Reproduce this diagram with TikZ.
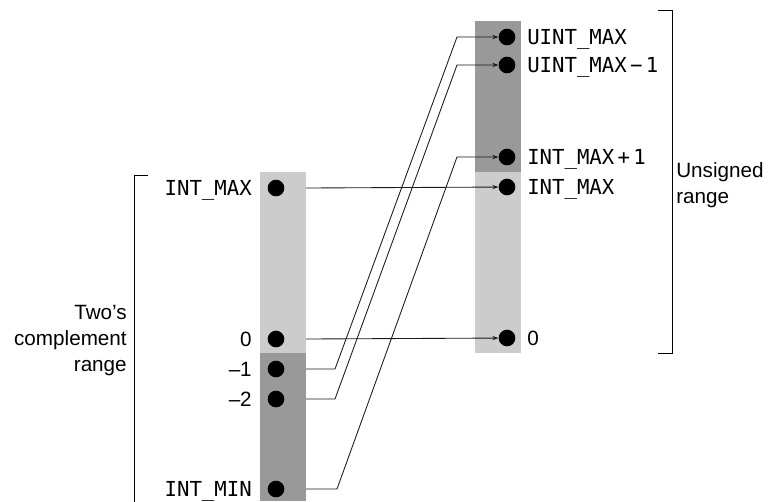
\documentclass[tikz,border=0pt]{standalone}
\usepackage{fontspec}
\setmainfont{Liberation Sans}
\setmonofont{DejaVu Sans Mono}
\usepackage{tikz}
\usetikzlibrary{arrows.meta,positioning,calc}
\definecolor{RangeLight}{HTML}{CCCCCC}
\definecolor{RangeDark}{HTML}{999999}
\definecolor{WireInk}{HTML}{1A1A1A}

\begin{document}
\begin{tikzpicture}[x=0.75pt,y=-0.75pt]
    \tikzset{
      val/.style={circle, fill=black, minimum size=12.5pt, inner sep=0pt},
      wire/.style={-{Stealth[length=4.5pt,width=3.2pt]},draw=WireInk,line width=.65pt},
      bracket/.style={draw=black,line width=.6pt},
      code/.style={font=\ttfamily\fontsize{15.5}{18}\selectfont,inner sep=0pt},
      plain/.style={font=\fontsize{15.5}{19.5}\selectfont,inner sep=0pt}
    }
    \useasboundingbox (0,0) rectangle (770,501);
    % shaded ranges
    \fill[RangeLight] (260,172) rectangle (306,353);
    \fill[RangeDark] (260,353) rectangle (306,501);
    \fill[RangeDark] (475,21) rectangle (521,172);
    \fill[RangeLight] (475,172) rectangle (521,353);
    % two's complement values
    \node[val] (smax) at (276,188) {};
    \node[val] (szero) at (276,339) {};
    \node[val] (sm1) at (276,369) {};
    \node[val] (sm2) at (276,399) {};
    \node[val] (smin) at (276,489) {};
    % unsigned values
    \node[val] (umax) at (507,37) {};
    \node[val] (umax1) at (507,65) {};
    \node[val] (ubig) at (507,157) {};
    \node[val] (usmax) at (507,187) {};
    \node[val] (uzero) at (507,338) {};
    \node[code,anchor=base east] (lsmax) at (252,195.5) {INT\_MAX};
    \node[plain,anchor=base east] (lszero) at (252,346.5) {0};
    \node[plain,anchor=base east] (lsm1) at (252,376.5) {--1};
    \node[plain,anchor=base east] (lsm2) at (252,406.5) {--2};
    \node[code,anchor=base east] (lsmin) at (252,496.5) {INT\_MIN};
    \node[code,anchor=base west] (lumax) at (527,44.5) {UINT\_MAX};
    \node[code,anchor=base west] (lumax1) at (527,72.5) {UINT\_MAX\kern2.5pt−\kern2.5pt1};
    \node[code,anchor=base west] (lubig) at (527,164.5) {INT\_MAX\kern2.5pt+\kern2.5pt1};
    \node[code,anchor=base west] (lusmax) at (527,194.5) {INT\_MAX};
    \node[plain,anchor=base west] (luzero) at (527,345.5) {0};
    % mappings
    \draw[wire] ($(smax)+(30,0)$) -- (usmax);
    \draw[wire] ($(szero)+(30,0)$) -- (uzero);
    \draw[wire] ($(sm1)+(30,0)$) -- ++(29,0) -- ($(umax)+(-50,0)$) -- (umax);
    \draw[wire] ($(sm2)+(30,0)$) -- ++(29,0) -- ($(umax1)+(-50,0)$) -- (umax1);
    \draw[wire] ($(smin)+(30,0)$) -- ++(31,0) -- ($(ubig)+(-50,0)$) -- (ubig);
    % ranges
    \draw[bracket] (658,10) -- (672,10) -- (672,353) -- (658,353);
    \draw[bracket] (148,175) -- (134,175) -- (134,502);
    \node[plain,align=left,anchor=west] (urange) at (676,185) {Unsigned\\range};
    \node[plain,align=right,anchor=east] (srange) at (127,341) {Two’s\\complement\\range};
  \end{tikzpicture}
\end{document}
